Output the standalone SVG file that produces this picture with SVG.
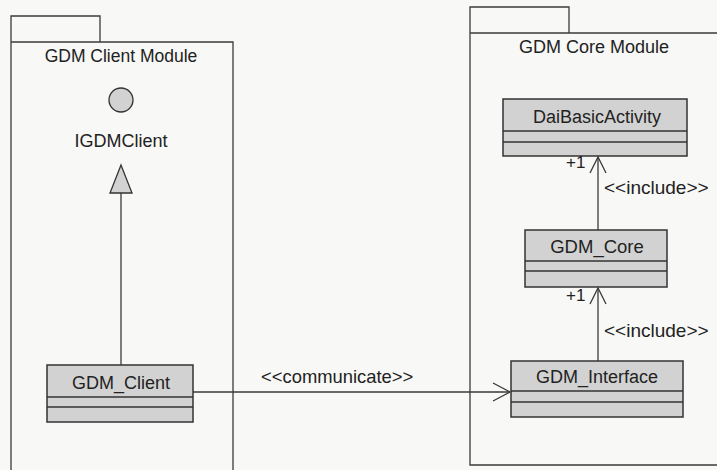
<svg xmlns="http://www.w3.org/2000/svg" width="717" height="470" viewBox="0 0 717 470">
<style>
.pk{fill:none;stroke:#3a3a3a;stroke-width:1.3}
.cls rect{fill:#d2d2d2;stroke:#333;stroke-width:1.5}
.cls line{stroke:#333;stroke-width:1.5}
.t{font-family:"Liberation Sans",Arial,sans-serif;fill:#222}
.c{text-anchor:middle}
.ln{stroke:#3a3a3a;stroke-width:1.3;fill:none}
</style>
<rect x="0" y="0" width="717" height="470" fill="#f8f8f6"/>
<g id="pkg-client">
<path class="pk" d="M11 42 V16 H100 V42 M11 42 H233 V475 M11 42 V475"/>
<text class="t c" x="121" y="62" font-size="17.5">GDM Client Module</text>
</g>
<g id="pkg-core">
<path class="pk" d="M470 33 V7 H569 V33 M470 33 H720 M470 33 V465 H720"/>
<text class="t c" x="594" y="53" font-size="18">GDM Core Module</text>
</g>
<g id="IGDMClient">
<circle cx="121" cy="100" r="12" fill="#d2d2d2" stroke="#333" stroke-width="1.3"/>
<text class="t c" x="121" y="147" font-size="18">IGDMClient</text>
</g>
<g id="GDM_Client" class="cls">
<rect x="47" y="365" width="146" height="57"/>
<line x1="47" y1="397" x2="193" y2="397"/>
<line x1="47" y1="407" x2="193" y2="407"/>
<text class="t c" x="121" y="389" font-size="18">GDM_Client</text>
</g>
<g id="DaiBasicActivity" class="cls">
<rect x="503" y="99" width="184" height="57"/>
<line x1="503" y1="131" x2="687" y2="131"/>
<line x1="503" y1="142" x2="687" y2="142"/>
<text class="t c" x="597" y="123" font-size="18">DaiBasicActivity</text>
</g>
<g id="GDM_Core" class="cls">
<rect x="525" y="230" width="142" height="57"/>
<line x1="525" y1="261" x2="667" y2="261"/>
<line x1="525" y1="271" x2="667" y2="271"/>
<text class="t c" x="597" y="253" font-size="18.5">GDM_Core</text>
</g>
<g id="GDM_Interface" class="cls">
<rect x="511" y="361" width="172" height="56"/>
<line x1="511" y1="391" x2="683" y2="391"/>
<line x1="511" y1="402" x2="683" y2="402"/>
<text class="t c" x="597" y="383" font-size="18">GDM_Interface</text>
</g>
<g id="connectors">
<line class="ln" x1="121" y1="193" x2="121" y2="365"/>
<polygon points="121,165 110,193 132,193" fill="#d2d2d2" stroke="#333" stroke-width="1.3"/>
<line class="ln" x1="193" y1="392" x2="510" y2="392"/>
<path class="ln" d="M493 383 L510 392 L493 401"/>
<text class="t" x="261" y="383" font-size="18.4">&lt;&lt;communicate&gt;&gt;</text>
<line class="ln" x1="598" y1="157" x2="598" y2="230"/>
<path class="ln" d="M590 173 L598 157 L606 173"/>
<text class="t" x="566" y="168" font-size="17">+1</text>
<text class="t" x="604" y="194" font-size="19">&lt;&lt;include&gt;&gt;</text>
<line class="ln" x1="598" y1="288" x2="598" y2="361"/>
<path class="ln" d="M590 304 L598 288 L606 304"/>
<text class="t" x="566" y="301" font-size="17">+1</text>
<text class="t" x="604" y="337" font-size="19">&lt;&lt;include&gt;&gt;</text>
</g>
</svg>
